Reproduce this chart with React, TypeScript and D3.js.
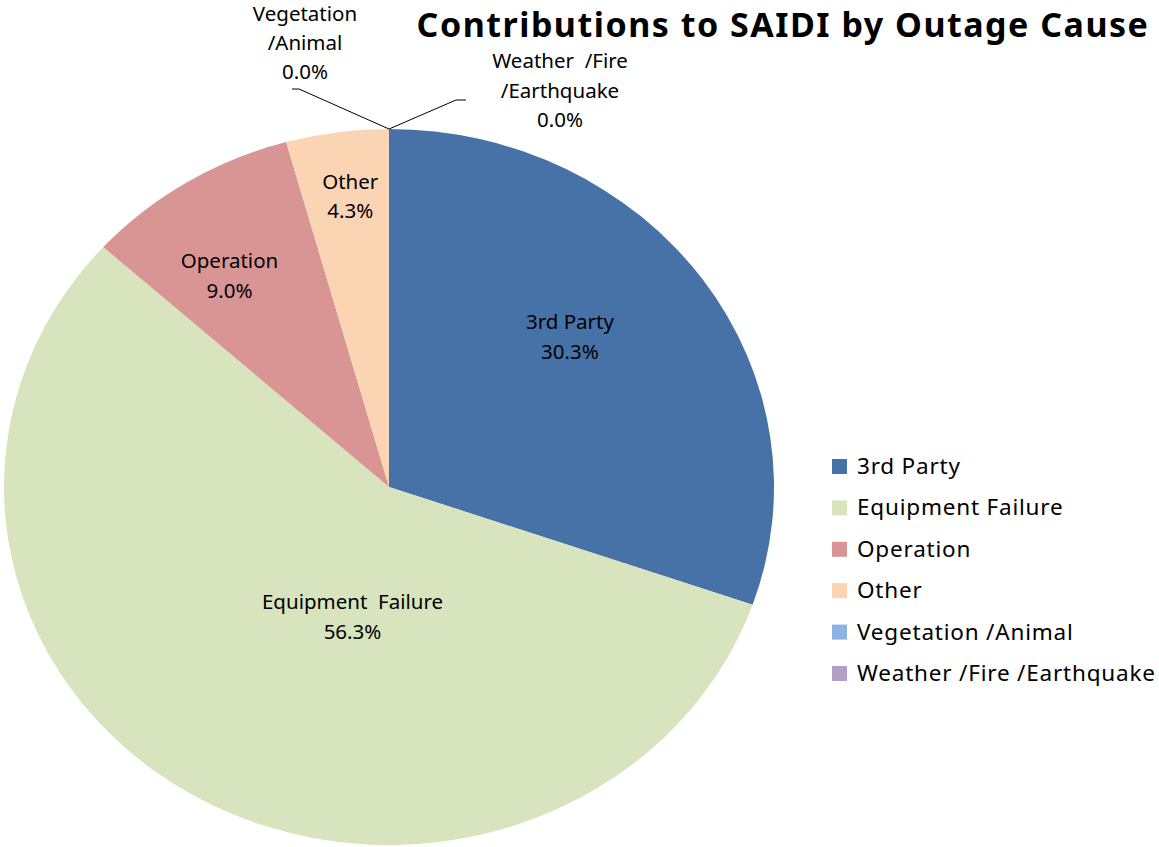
import * as d3 from "d3";
import React from "react";

const categories = ["3rd Party", "Equipment Failure", "Operation", "Other", "Vegetation /Animal", "Weather /Fire /Earthquake"];
const values = [30.3, 56.3, 9.0, 4.3, 0.0, 0.0];
const colors = ["#4672a7", "#d7e4bd", "#d99594", "#fbd4b4", "#8db3e2", "#b2a1c7"];
// label lines shown inside / beside the slices
const labelLines = [
  ["3rd Party"],
  ["Equipment  Failure"],
  ["Operation"],
  ["Other"],
  ["Vegetation", "/Animal"],
  ["Weather  /Fire", "/Earthquake"],
];

const W = 1159;
const H = 847;
const cx = 389;
const cy = 487;
const ry = 358;
const sx = 385 / 358; // pie is slightly stretched horizontally
const fontFamily = "'Noto Sans', 'Open Sans', sans-serif";

// nudges from the arc centroid, like Excel's best fit
const labelNudge: [number, number][] = [[-23, -15], [91, -70], [-28, -13], [-5, -60]];

const App: React.FC = () => {
  const pie = d3.pie<number>().sort(null).value((d) => d)(values);
  const arc = d3.arc<d3.PieArcDatum<number>>().innerRadius(0).outerRadius(ry);
  const labelArc = d3.arc<d3.PieArcDatum<number>>().innerRadius(ry * 0.65).outerRadius(ry * 0.65);
  const lineH = 29.5;

  const legendY = d3.scalePoint<string>().domain(categories).range([466, 673]);

  return (
    <svg width={W} height={H} style={{ position: "absolute", left: 0, top: 0, background: "#fff" }}>
      <text x={783} y={37} textAnchor="middle" fontFamily={fontFamily} fontWeight="bold" fontSize={34} letterSpacing={1.5} fill="#000">
        Contributions to SAIDI by Outage Cause
      </text>

      <g transform={`translate(${cx},${cy}) scale(${sx},1)`}>
        {pie.map((p, i) => (
          <path key={i} d={arc(p) || ""} fill={colors[i]} />
        ))}
      </g>

      {pie.map((p, i) => {
        const pct = `${values[i].toFixed(1)}%`;
        if (values[i] > 0) {
          const [lx, ly] = labelArc.centroid(p);
          const x = cx + lx * sx + labelNudge[i][0];
          const y = cy + ly + labelNudge[i][1];
          const lines = [...labelLines[i], pct];
          const y0 = y - ((lines.length - 1) * lineH) / 2 + 7;
          return (
            <text key={i} textAnchor="middle" fontFamily={fontFamily} fontSize={20.5} fill="#000" style={{ whiteSpace: "pre" }}>
              {lines.map((t, j) => (
                <tspan key={j} x={x} y={y0 + j * lineH}>{t}</tspan>
              ))}
            </text>
          );
        }
        // zero slices sit at the top of the pie, labels pulled out with leader lines
        const a = p.startAngle;
        const px = cx + Math.sin(a) * ry * sx;
        const py = cy - Math.cos(a) * ry;
        const left = i === 4;
        const elbow: [number, number] = left ? [px - 90, py - 40] : [px + 67, py - 29];
        const end: [number, number] = left ? [elbow[0] - 7, elbow[1]] : [elbow[0] + 10, elbow[1]];
        const tx = left ? 305 : 560;
        const ty = left ? 21 : 68;
        const lines = [...labelLines[i], pct];
        return (
          <g key={i}>
            <path d={d3.line()([[px, py], elbow, end]) || ""} fill="none" stroke="#000" strokeWidth={1} />
            <text textAnchor="middle" fontFamily={fontFamily} fontSize={20.5} fill="#000" style={{ whiteSpace: "pre" }}>
              {lines.map((t, j) => (
                <tspan key={j} x={tx} y={ty + j * (left ? 29 : lineH)}>{t}</tspan>
              ))}
            </text>
          </g>
        );
      })}

      {categories.map((c, i) => (
        <g key={c} transform={`translate(832,${legendY(c)})`}>
          <rect x={0} y={-7} width={15} height={15} fill={colors[i]} />
          <text x={25} y={8} fontFamily={fontFamily} fontSize={22.5} letterSpacing={0.8} fill="#000">{c}</text>
        </g>
      ))}
    </svg>
  );
};

export default App;
